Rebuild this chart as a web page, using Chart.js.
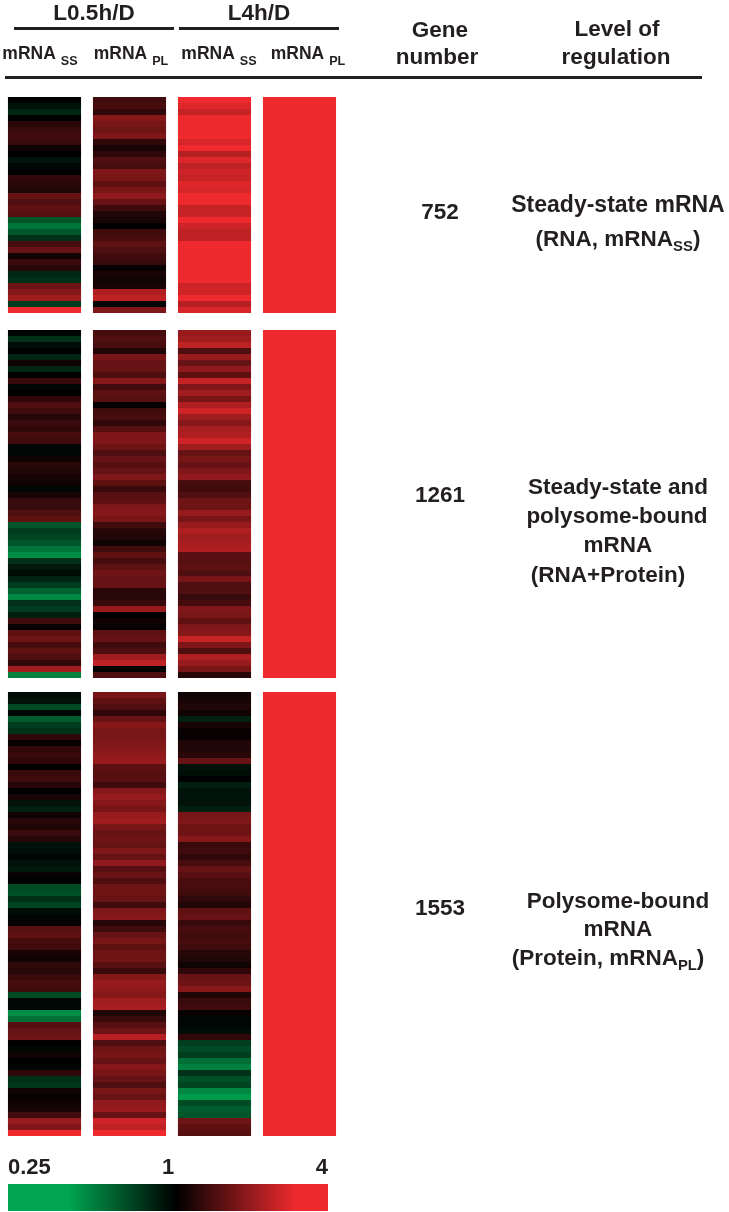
<!DOCTYPE html>
<html>
<head>
<meta charset="utf-8">
<title>Heat map</title>
<script src="https://cdn.jsdelivr.net/npm/chart.js@4"></script>
<style>
    html, body { margin: 0; padding: 0; background: #fff; }
    body { position: relative; width: 729px; height: 1212px; overflow: hidden; font-family: "Liberation Sans", Arial, sans-serif; color: #231f20; }
    canvas { position: absolute; filter: blur(0.7px); }
    #scaleBar { filter: blur(0.5px); }
    .rule { position: absolute; background: #231f20; height: 3px; filter: blur(0.3px); }
    .txt { position: absolute; transform: translateX(-50%); font-weight: bold; font-size: 22.5px; line-height: 26px; white-space: nowrap; filter: blur(0.3px); }
    .col { font-size: 17.5px; line-height: 22px; }
    .txt sub { font-size: 0.66em; line-height: 0; vertical-align: -0.35em; }
    .col sub { font-size: 0.72em; margin-left: 5px; vertical-align: -0.5em; }
</style>
</head>
<body>
<canvas id="panel1" width="340" height="216" style="left:2px;top:97px"></canvas>
<canvas id="panel2" width="340" height="348" style="left:2px;top:330px"></canvas>
<canvas id="panel3" width="340" height="444" style="left:2px;top:692px"></canvas>
<canvas id="scaleBar" width="326" height="55" style="left:5px;top:1157px"></canvas>

<div class="rule" style="left:14px;top:27px;width:160px"></div>
<div class="rule" style="left:179px;top:27px;width:160px"></div>
<div class="rule" style="left:5px;top:76px;width:697px"></div>

<div class="txt" style="left:94px;top:0px">L0.5h/D</div>
<div class="txt" style="left:259px;top:0px">L4h/D</div>
<div class="txt col" style="left:40px;top:42px">mRNA<sub>SS</sub></div>
<div class="txt col" style="left:131px;top:42px">mRNA<sub>PL</sub></div>
<div class="txt col" style="left:219px;top:42px">mRNA<sub>SS</sub></div>
<div class="txt col" style="left:308px;top:42px">mRNA<sub>PL</sub></div>

<div class="txt" style="left:440px;top:17px">Gene</div>
<div class="txt" style="left:437px;top:44px">number</div>
<div class="txt" style="left:617px;top:16px">Level of</div>
<div class="txt" style="left:616px;top:44px">regulation</div>

<div class="txt" style="left:440px;top:199px">752</div>
<div class="txt" style="left:618px;top:191px;font-size:23px">Steady-state mRNA</div>
<div class="txt" style="left:618px;top:226px">(RNA, mRNA<sub>SS</sub>)</div>

<div class="txt" style="left:440px;top:482px">1261</div>
<div class="txt" style="left:618px;top:474px">Steady-state and</div>
<div class="txt" style="left:617px;top:503px">polysome-bound</div>
<div class="txt" style="left:618px;top:532px">mRNA</div>
<div class="txt" style="left:608px;top:562px">(RNA+Protein)</div>

<div class="txt" style="left:440px;top:895px">1553</div>
<div class="txt" style="left:618px;top:888px">Polysome-bound</div>
<div class="txt" style="left:618px;top:916px">mRNA</div>
<div class="txt" style="left:608px;top:945px">(Protein, mRNA<sub>PL</sub>)</div>

<script>
// log2 ratios, one list per heat map column, top row first
const columns = ['L0.5h/D mRNA SS', 'L0.5h/D mRNA PL', 'L4h/D mRNA SS', 'L4h/D mRNA PL'];

const p1Col1 = [.1,-.05,-.2,.1,.35,.45,.5,.45,.2,.1,-.05,.05,.1,.4,.35,.3,.75,.6,.7,.65,-.6,-.85,-.6,-.3,.55,.75,.2,.45,.35,-.2,-.3,.8,.95,1.1,-.4,1.7];
const p1Col2 = [.5,.55,.4,.95,.85,.8,.9,.4,.25,.4,.6,.55,.9,.85,.7,.85,1,.75,.5,.3,.25,.1,.5,.55,.7,.6,.5,.45,.15,.25,.2,.25,1.2,1.3,.05,.9];
const p1Col3 = [1.6,1.5,1.35,1.7,1.7,1.7,1.7,1.45,1.6,1.25,1.5,1.3,1.4,1.35,1.5,1.45,1.7,1.65,1.35,1.35,1.6,1.4,1.3,1.3,1.8,1.8,1.8,1.8,1.7,1.7,1.7,1.4,1.4,1.65,1.25,1.45];
const p1Col4 = [1.8,1.8,1.8,1.8,1.8,1.8,1.8,1.8,1.8,1.8,1.8,1.8,1.8,1.8,1.8,1.8,1.8,1.8,1.8,1.8,1.8,1.8,1.8,1.8,1.8,1.8,1.8,1.8,1.8,1.8,1.8,1.8,1.8,1.8,1.8,1.8];

const p2Col1 = [.05,-.3,0,.1,-.2,.2,-.2,.1,.45,.05,.1,.4,.6,.5,.35,.45,.4,.55,.5,.05,.05,.2,.35,.3,.25,.2,.05,.25,.45,
    .45,.6,.7,-.6,-.4,-.45,-.6,-.85,-1.05,-.3,-.1,0,-.2,-.4,-.7,-1,-.3,-.4,-.15,.5,.15,.7,.8,.55,.7,.6,.4,1.1,-.95];
const p2Col2 = [.55,.6,.55,.3,.85,.75,.75,.6,.95,.5,.7,.65,.15,.5,.55,.4,.65,.9,.9,.8,.6,.75,.65,.75,.9,.7,.45,.65,.7,
    .9,.95,.85,.5,.35,.3,.2,.5,.7,.55,.7,.8,.75,.75,.35,.35,.45,1.05,.1,.2,.15,.7,.75,.5,.6,1.1,1.3,.1,.6];
const p2Col3 = [1.05,1.1,1.3,.6,1.05,.75,1,.7,1.35,.9,1.1,.85,1.2,1.4,1.1,.95,1.15,1.2,1.4,1.1,.75,.85,.75,.9,1,.55,.5,.6,.8,
    .8,1.05,.85,1.05,1.2,1.1,1.15,1.2,.65,.65,.7,.6,.85,.6,.6,.45,.55,.9,.85,.7,.9,.95,1.35,.9,.6,1.2,1.05,.85,.35];
const p2Col4 = [1.8,1.8,1.8,1.8,1.8,1.8,1.8,1.8,1.8,1.8,1.8,1.8,1.8,1.8,1.8,1.8,1.8,1.8,1.8,1.8,1.8,1.8,1.8,1.8,1.8,1.8,1.8,1.8,1.8,
    1.8,1.8,1.8,1.8,1.8,1.8,1.8,1.8,1.8,1.8,1.8,1.8,1.8,1.8,1.8,1.8,1.8,1.8,1.8,1.8,1.8,1.8,1.8,1.8,1.8,1.8,1.8,1.8,1.8];

const p3Col1 = [0,-.05,-.5,.05,-.65,-.4,-.3,.4,.15,.4,.45,.4,.1,.45,.5,.35,.1,.25,-.05,-.15,.2,.35,.3,.45,.35,-.05,0,.05,-.05,-.1,.15,.1,-.5,-.55,-.3,-.45,0,
    .05,.15,.65,.7,.55,.5,.25,.2,.4,.35,.45,.55,.5,-.5,.05,.05,-1.05,-.8,.65,.75,.8,.1,.05,.2,.1,.05,.4,-.3,-.35,.2,.15,.2,.25,.5,1.05,.9,1.6];
const p3Col2 = [.85,.7,.6,.4,.75,.95,.85,.85,.9,.95,1,1.05,.7,.65,.65,.5,.95,1.05,.95,.85,1.05,1.1,.85,.75,.8,.75,.9,.75,1,.65,.75,.6,.8,.8,.75,.5,.9,
    .95,.35,.5,.75,.85,.7,.8,.8,.65,.45,.95,1.05,1,.95,1.1,1.15,.3,.45,.65,.8,1.25,.6,.8,.85,.75,.95,.85,.75,.6,.85,.75,1,1.05,.75,1.4,1.3,1.8];
const p3Col3 = [.2,.25,.3,.2,-.15,.25,.15,.15,.3,.3,.35,.75,-.05,0,.1,-.15,-.05,-.05,-.05,-.15,.85,.9,.8,.8,.95,.45,.5,.4,.55,.75,.65,.55,.55,.5,.4,.3,.7,
    .75,.45,.55,.5,.55,.5,.35,.3,.2,.4,.75,.8,.95,.3,.45,.5,.15,.05,.05,0,.4,-.4,-.5,-.4,-.8,-.95,-.3,-.55,-.45,-1,-1.15,-.5,-.65,-.6,.8,.7,.65];
const p3Col4 = [1.8,1.8,1.8,1.8,1.8,1.8,1.8,1.8,1.8,1.8,1.8,1.8,1.8,1.8,1.8,1.8,1.8,1.8,1.8,1.8,1.8,1.8,1.8,1.8,1.8,1.8,1.8,1.8,1.8,1.8,1.8,1.8,1.8,1.8,1.8,1.8,1.8,
    1.8,1.8,1.8,1.8,1.8,1.8,1.8,1.8,1.8,1.8,1.8,1.8,1.8,1.8,1.8,1.8,1.8,1.8,1.8,1.8,1.8,1.8,1.8,1.8,1.8,1.8,1.8,1.8,1.8,1.8,1.8,1.8,1.8,1.8,1.8,1.8,1.8];

// colour bar
const scaleTicks = [-2, 0, 2];
const scaleLabels = ['0.25', '1', '4'];
const scaleStops = [-2, -1.25, -0.6, 0.1, 0.85, 1.6, 2];

function heatColor(v) {
    if (v >= 0.1) {
        const t = Math.min((v - 0.1) / 1.5, 1);
        return `rgb(${Math.round(238 * t)},${Math.round(42 * t)},${Math.round(46 * t)})`;
    }
    const t = Math.min((0.1 - v) / 1.35, 1);
    return `rgb(0,${Math.round(166 * t)},${Math.round(81 * t)})`;
}

// each row is one stacked dataset, every bar one row high
function drawPanel(id, cols) {
    const rows = cols[0].length;
    const datasets = [];
    for (let r = 0; r < rows; r++) {
        datasets.push({
            data: cols.map(() => 1),
            backgroundColor: cols.map(c => heatColor(c[r])),
            barPercentage: 0.86,
            categoryPercentage: 1
        });
    }
    new Chart(document.getElementById(id), {
        type: 'bar',
        data: { labels: columns, datasets },
        options: {
            responsive: false,
            animation: false,
            layout: { padding: 0 },
            plugins: { legend: { display: false }, tooltip: { enabled: false } },
            scales: {
                x: { display: false, stacked: true },
                y: { display: false, stacked: true, reverse: true, min: 0, max: rows }
            }
        }
    });
}

drawPanel('panel1', [p1Col1, p1Col2, p1Col3, p1Col4]);
drawPanel('panel2', [p2Col1, p2Col2, p2Col3, p2Col4]);
drawPanel('panel3', [p3Col1, p3Col2, p3Col3, p3Col4]);

new Chart(document.getElementById('scaleBar'), {
    type: 'bar',
    data: {
        labels: ['scale'],
        datasets: [{
            data: [[scaleTicks[0], scaleTicks[2]]],
            barPercentage: 1,
            categoryPercentage: 1,
            backgroundColor: ctx => {
                const area = ctx.chart.chartArea;
                if (!area) return heatColor(0);
                const grad = ctx.chart.ctx.createLinearGradient(area.left, 0, area.right, 0);
                scaleStops.forEach(v => grad.addColorStop((v + 2) / 4, heatColor(v)));
                return grad;
            }
        }]
    },
    options: {
        indexAxis: 'y',
        responsive: false,
        animation: false,
        layout: { padding: { bottom: 1 } },
        plugins: { legend: { display: false }, tooltip: { enabled: false } },
        scales: {
            y: { display: false },
            x: {
                position: 'top',
                min: -2,
                max: 2,
                border: { display: false },
                grid: { display: false, drawTicks: false },
                afterBuildTicks: axis => { axis.ticks = scaleTicks.map(value => ({ value })); },
                ticks: {
                    align: 'inner',
                    autoSkip: false,
                    maxRotation: 0,
                    padding: 3,
                    color: '#231f20',
                    font: { family: '"Liberation Sans", Arial, sans-serif', size: 22, weight: 'bold' },
                    callback: (val, i) => scaleLabels[i]
                }
            }
        }
    }
});
</script>
</body>
</html>
